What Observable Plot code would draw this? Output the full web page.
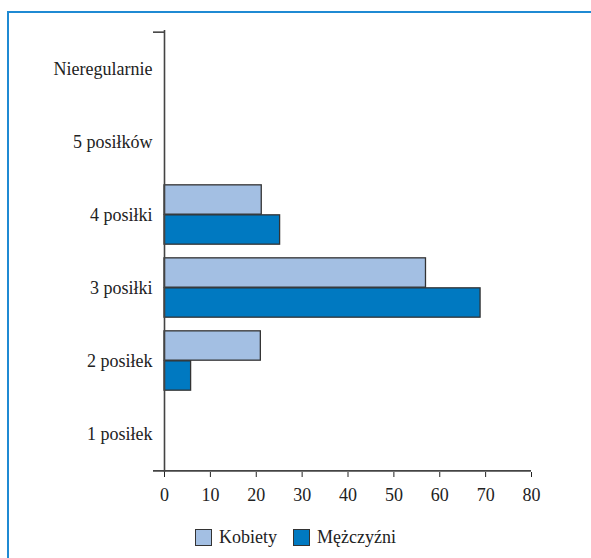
<!DOCTYPE html>
<html>
<head>
<meta charset="utf-8">
<script src="https://cdn.jsdelivr.net/npm/d3@7"></script>
<script src="https://cdn.jsdelivr.net/npm/@observablehq/plot@0.6"></script>
<style>
  html, body { margin: 0; padding: 0; background: #fff; }
  #wrap { position: relative; width: 591px; height: 558px; overflow: hidden; font-family: "Liberation Serif", "Times New Roman", "DejaVu Serif", serif; }
  #border { position: absolute; left: 7px; top: 11px; width: 700px; height: 700px; border-left: 2px solid #1f8ad3; border-top: 2px solid #1f8ad3; }
  #chart { position: absolute; left: 0; top: 0; }
  #legend { position: absolute; top: 527px; left: 0; width: 591px; display: flex; justify-content: center; font-size: 18px; color: #222; }
  .item { display: flex; align-items: center; margin: 0 8px; }
  .sw { width: 15px; height: 15px; border: 1.3px solid #333; margin-right: 7px; }
  #chart svg text { font-family: "Liberation Serif", "Times New Roman", "DejaVu Serif", serif; }
</style>
</head>
<body>
<div id="wrap">
  <div id="border"></div>
  <div id="chart"></div>
  <div id="legend"></div>
</div>
<script>
const categories = ["Nieregularnie", "5 posiłków", "4 posiłki", "3 posiłki", "2 posiłek", "1 posiłek"];
const series = ["Kobiety", "Mężczyźni"];
const kobiety = [0, 0, 21.2, 57.0, 21.0, 0];
const mezczyzni = [0, 0, 25.2, 68.9, 5.8, 0];
const xTicks = [0, 10, 20, 30, 40, 50, 60, 70, 80];
const colors = ["#a3bfe3", "#0079c1"];

const W = 591, H = 515, mTop = 30, mBottom = 43, mLeft = 164, mRight = 60;
const step = (H - mTop - mBottom) / categories.length;
const barH = 30;
const plotW = W - mLeft - mRight;

const rows = [];
categories.forEach((c, i) => {
  rows.push({cat: c, sex: series[0], v: kobiety[i]});
  rows.push({cat: c, sex: series[1], v: mezczyzni[i]});
});

const chart = Plot.plot({
  width: W, height: H,
  marginTop: mTop, marginBottom: mBottom, marginLeft: mLeft, marginRight: mRight,
  style: {fontFamily: "'Liberation Serif', 'Times New Roman', serif", fontSize: "18px", color: "#222", background: "transparent"},
  x: {domain: [0, 80], ticks: xTicks, tickSize: 5, tickPadding: 11, label: null, tickFormat: d => d},
  y: {domain: categories, padding: 0, tickSize: 0, tickPadding: 12, label: null},
  color: {domain: series, range: colors},
  marks: [
    Plot.barX(rows.filter(d => d.sex === series[0] && d.v > 0), {
      x: "v", y: "cat", fill: "sex", stroke: "#333", strokeWidth: 1.3,
      insetTop: step / 2 - barH, insetBottom: step / 2
    }),
    Plot.barX(rows.filter(d => d.sex === series[1] && d.v > 0), {
      x: "v", y: "cat", fill: "sex", stroke: "#333", strokeWidth: 1.3,
      insetTop: step / 2, insetBottom: step / 2 - barH
    }),
    Plot.ruleX([0], {stroke: "#444", strokeWidth: 1.6}),
    Plot.ruleY([categories[0]], {stroke: "#444", strokeWidth: 1.6, insetLeft: -11, insetRight: plotW, dy: -step / 2}),
    Plot.ruleY([categories[categories.length - 1]], {stroke: "#444", strokeWidth: 1.6, insetLeft: -11, dy: step / 2})
  ]
});
document.getElementById("chart").appendChild(chart);

const legend = document.getElementById("legend");
series.forEach((s, i) => {
  const it = document.createElement("div");
  it.className = "item";
  const sw = document.createElement("div");
  sw.className = "sw";
  sw.style.background = colors[i];
  const t = document.createElement("span");
  t.textContent = s;
  it.appendChild(sw); it.appendChild(t);
  legend.appendChild(it);
});
</script>
</body>
</html>
